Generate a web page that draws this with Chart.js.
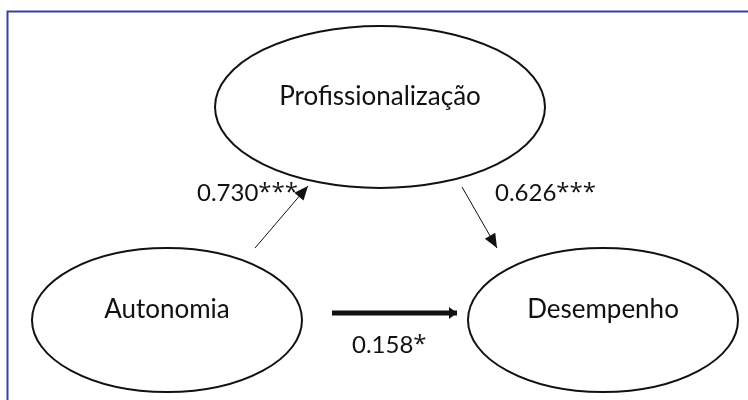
<!DOCTYPE html>
<html>
<head>
<meta charset="utf-8">
<script src="https://cdn.jsdelivr.net/npm/chart.js@4"></script>
<style>
  html, body { margin: 0; padding: 0; background: #fff; }
  #wrap { width: 748px; height: 400px; }
</style>
</head>
<body>
<div id="wrap"><canvas id="myChart" width="748" height="400"></canvas></div>
<script>
"use strict";

// constructs and path coefficients
const nodes = ["Profissionalização", "Autonomia", "Desempenho"];
const pathFrom = [1, 0, 1];
const pathTo = [0, 2, 2];
const coefs = [0.730, 0.626, 0.158];
const stars = ["***", "***", "*"];

// layout (in the 748 x 400 diagram units)
const nodeCx = [380, 167, 603];
const nodeCy = [107, 320, 320];
const nodeRx = [165, 135, 135];
const nodeRy = [81, 72, 72];
const pathStart = [[255, 248], [462, 187], [332, 313]];
const pathEnd = [[308, 186], [497, 248], [457, 313]];
const pathWidth = [1, 1, 5];
const labelPos = [[197, 193], [495, 193], [352, 345]];

const ink = "#111";
const frameBlue = "#3b3f9e";

const ctx = document.getElementById("myChart");

const pathSets = coefs.map((c, i) => ({
  label: nodes[pathFrom[i]] + " → " + nodes[pathTo[i]],
  data: [
    { x: pathStart[i][0], y: pathStart[i][1] },
    { x: pathEnd[i][0], y: pathEnd[i][1] },
  ],
  showLine: true,
  borderColor: ink,
  borderWidth: pathWidth[i],
  pointRadius: 0,
  borderCapStyle: "butt",
}));

const diagram = {
  id: "diagram",
  beforeDatasetsDraw(chart) {
    const c = chart.ctx;
    const sx = chart.scales.x;
    const sy = chart.scales.y;

    // frame (only top and left edges fall inside the picture)
    c.save();
    c.strokeStyle = frameBlue;
    c.lineWidth = 2;
    c.beginPath();
    c.moveTo(7.5, 400);
    c.lineTo(7.5, 11.5);
    c.lineTo(748, 11.5);
    c.stroke();
    c.restore();

    nodes.forEach((name, i) => {
      const cx = sx.getPixelForValue(nodeCx[i]);
      const cy = sy.getPixelForValue(nodeCy[i]);
      const rx = Math.abs(sx.getPixelForValue(nodeCx[i] + nodeRx[i]) - cx);
      const ry = Math.abs(sy.getPixelForValue(nodeCy[i] + nodeRy[i]) - cy);
      c.save();
      c.beginPath();
      c.ellipse(cx, cy, rx, ry, 0, 0, Math.PI * 2);
      c.fillStyle = "#fff";
      c.fill();
      c.strokeStyle = ink;
      c.lineWidth = 2;
      c.stroke();
      c.fillStyle = ink;
      c.font = "26px Lato";
      c.textAlign = "center";
      c.textBaseline = "middle";
      c.fillText(name, cx, cy - 10);
      c.restore();
    });
  },
  afterDatasetsDraw(chart) {
    const c = chart.ctx;
    const sx = chart.scales.x;
    const sy = chart.scales.y;
    coefs.forEach((v, i) => {
      const pts = chart.getDatasetMeta(i).data;
      const a = pts[0], b = pts[1];
      const ang = Math.atan2(b.y - a.y, b.x - a.x);
      const thick = pathWidth[i] > 2;
      const len = thick ? 8 : 14;
      const half = 6;
      c.save();
      c.fillStyle = ink;
      c.translate(b.x, b.y);
      c.rotate(ang);
      c.beginPath();
      c.moveTo(0, 0);
      c.lineTo(-len, -half);
      c.lineTo(-len, half);
      c.closePath();
      c.fill();
      c.restore();

      // coefficient: number in Lato, stars a bit larger as in the source
      const x = sx.getPixelForValue(labelPos[i][0]);
      const y = sy.getPixelForValue(labelPos[i][1]);
      const num = v.toFixed(3);
      c.save();
      c.fillStyle = ink;
      c.textAlign = "left";
      c.textBaseline = "middle";
      c.font = "24px Lato";
      c.fillText(num, x, y);
      const w = c.measureText(num).width;
      c.font = "24px 'Open Sans'";
      c.fillText(stars[i], x + w, y);
      c.restore();
    });
  },
};

new Chart(ctx, {
  type: "scatter",
  data: { datasets: pathSets },
  options: {
    responsive: false,
    animation: false,
    layout: { padding: 0 },
    scales: {
      x: { type: "linear", min: 0, max: 748, display: false },
      y: { type: "linear", min: 0, max: 400, reverse: true, display: false },
    },
    plugins: {
      legend: { display: false },
      tooltip: { enabled: false },
    },
  },
  plugins: [diagram],
});
</script>
</body>
</html>
